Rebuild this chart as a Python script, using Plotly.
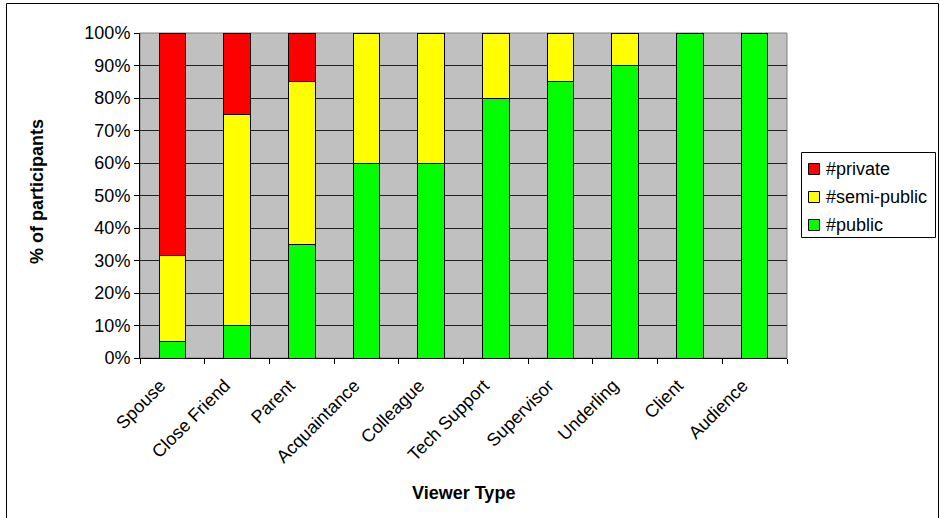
import plotly.graph_objects as go

# Viewer types and share of participants (%) per sharing level
viewer_types = ["Spouse", "Close Friend", "Parent", "Acquaintance", "Colleague",
                "Tech Support", "Supervisor", "Underling", "Client", "Audience"]
public_pct = [5, 10, 35, 60, 60, 80, 85, 90, 100, 100]
semi_public_pct = [26.5, 65, 50, 40, 40, 20, 15, 10, 0, 0]
private_pct = [68.5, 25, 15, 0, 0, 0, 0, 0, 0, 0]
y_ticks = [0, 10, 20, 30, 40, 50, 60, 70, 80, 90, 100]
y_tick_labels = [f"{v}%" for v in y_ticks]

FONT = "Liberation Sans, Arial, sans-serif"
FS = 18

series = [("#public", public_pct, "#00FF00"),
          ("#semi-public", semi_public_pct, "#FFFF00"),
          ("#private", private_pct, "#FF0000")]

fig = go.Figure()
for name, vals, color in series:
    fig.add_trace(go.Bar(
        x=viewer_types, y=vals, name=name,
        marker=dict(color=color, line=dict(color="black", width=1)),
    ))

W, H = 940, 518
L, R, T, B = 140, 153, 33, 160
pw, ph = W - L - R, H - T - B

def px_x(x):
    return (x - L) / pw

def px_y(y):
    return (H - B - y) / ph

shapes = [
    # plot-area border
    dict(type="rect", xref="paper", yref="paper", x0=0, x1=1, y0=0, y1=1,
         line=dict(color="#808080", width=1), layer="below"),
    # outer chart frame
    dict(type="rect", xref="paper", yref="paper",
         x0=px_x(6.5), x1=px_x(938.5), y0=px_y(540), y1=px_y(3.5),
         line=dict(color="black", width=1)),
    # legend box
    dict(type="rect", xref="paper", yref="paper",
         x0=px_x(801.5), x1=px_x(935.5), y0=px_y(237.5), y1=px_y(152.5),
         line=dict(color="black", width=1), fillcolor="white"),
]
annotations = [
    dict(text="<b>Viewer Type</b>", xref="paper", yref="paper",
         x=0.5, y=px_y(493), xanchor="center", yanchor="middle",
         showarrow=False, font=dict(size=FS)),
    dict(text="<b>% of participants</b>", xref="paper", yref="paper",
         x=px_x(37), y=px_y(192), xanchor="center", yanchor="middle",
         textangle=-90, showarrow=False, font=dict(size=FS)),
]

# legend entries, top to bottom: private, semi-public, public
legend_rows = [169, 197, 225]
for (name, _, color), yc in zip(reversed(series), legend_rows):
    shapes.append(dict(type="rect", xref="paper", yref="paper",
                       x0=px_x(808.5), x1=px_x(819.5),
                       y0=px_y(yc + 5.5), y1=px_y(yc - 5.5),
                       line=dict(color="black", width=1), fillcolor=color))
    annotations.append(dict(text=name, xref="paper", yref="paper",
                            x=px_x(824), y=px_y(yc), xanchor="left",
                            yanchor="middle", showarrow=False,
                            font=dict(size=FS)))

fig.update_layout(
    width=W, height=H,
    margin=dict(l=L, r=R, t=T, b=B, autoexpand=False),
    barmode="stack",
    bargap=0.59,
    plot_bgcolor="#C0C0C0",
    paper_bgcolor="white",
    font=dict(family=FONT, size=FS, color="black"),
    showlegend=False,
    xaxis=dict(
        tickangle=-45,
        showline=True, linecolor="black", linewidth=1,
        ticks="outside", ticklen=5, tickcolor="black",
        tickson="boundaries",
        ticklabelshift=-12, ticklabelstandoff=9,
        showgrid=False,
        tickfont=dict(size=FS),
    ),
    yaxis=dict(
        range=[0, 100],
        tickvals=y_ticks, ticktext=y_tick_labels,
        showline=True, linecolor="black", linewidth=1,
        ticks="outside", ticklen=5, tickcolor="black",
        showgrid=True, gridcolor="#202020", gridwidth=1,
        zeroline=False,
        tickfont=dict(size=FS),
    ),
    annotations=annotations,
    shapes=shapes,
)

fig.write_html("out.html")
